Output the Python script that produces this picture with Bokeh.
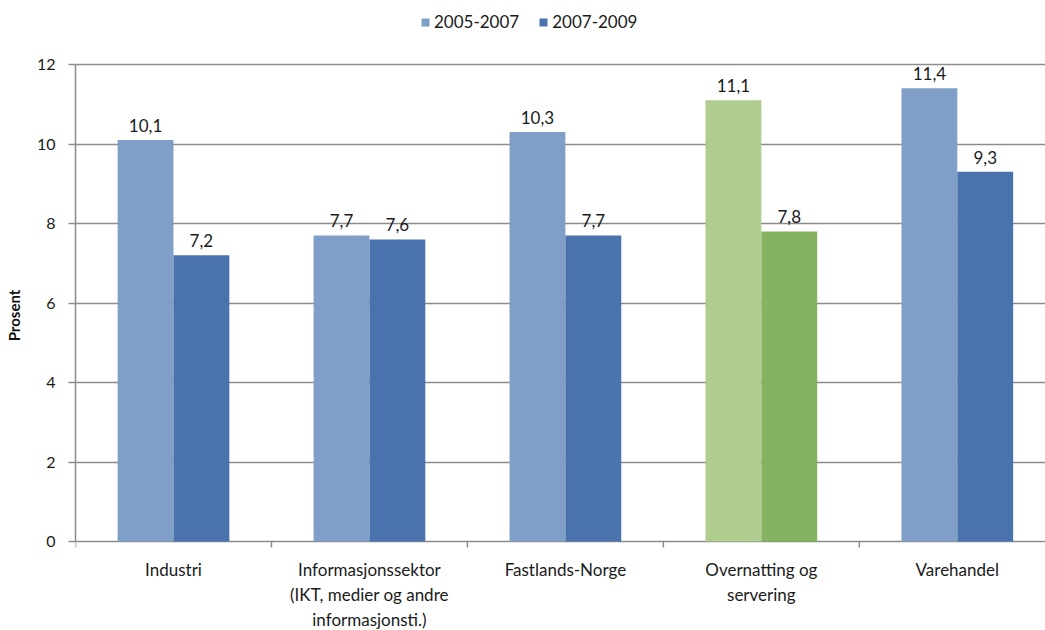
from bokeh.plotting import figure
from bokeh.models import ColumnDataSource, FixedTicker, Legend, LegendItem, Range1d
from bokeh.transform import dodge
from bokeh.core.properties import value
from bokeh.embed import file_html
from bokeh.resources import INLINE

categories = ["Industri", "Informasjonssektor\n(IKT, medier og andre\ninformasjonsti.)",
              "Fastlands-Norge", "Overnatting og\nservering", "Varehandel"]
series_names = ["2005-2007", "2007-2009"]
v_2005_2007 = [10.1, 7.7, 10.3, 11.1, 11.4]
v_2007_2009 = [7.2, 7.6, 7.7, 7.8, 9.3]
y_ticks = [0, 2, 4, 6, 8, 10, 12]
highlight = 3  # Overnatting og servering drawn in green

FONT = "Lato"
C1, C2 = "#7f9fc8", "#4a73ae"
G1, G2 = "#afcd8f", "#86b35f"
GRID = "#8c8c8c"
TXT = "#1a1a1a"

# pixel layout: value 12 at y=64px, value 0 at y=541px, figure 630px tall
PX_PER_UNIT = 477 / 12.0
Y_TOP = 12 + 64 / PX_PER_UNIT
Y_BOT = -(630 - 541) / PX_PER_UNIT
TICK = 6 / PX_PER_UNIT

n = len(categories)
xs = [i + 0.5 for i in range(n)]
bounds = list(range(n + 1))

def fmt(v):
    return f"{v:.1f}".replace(".", ",")

src1 = ColumnDataSource(dict(x=xs, top=v_2005_2007, lab=[fmt(v) for v in v_2005_2007],
                             color=[G1 if i == highlight else C1 for i in range(n)]))
src2 = ColumnDataSource(dict(x=xs, top=v_2007_2009, lab=[fmt(v) for v in v_2007_2009],
                             color=[G2 if i == highlight else C2 for i in range(n)]))
cat_src = ColumnDataSource(dict(x=xs, y=[0] * n, text=categories))
tick_src = ColumnDataSource(dict(x=bounds, y0=[0] * len(bounds), y1=[-TICK] * len(bounds)))

p = figure(width=1045, height=630, output_backend="svg", toolbar_location=None,
           x_range=Range1d(0, 4.95), y_range=Range1d(Y_BOT, Y_TOP),
           min_border_left=75, min_border_right=0, min_border_top=0, min_border_bottom=0)
p.outline_line_color = None
p.background_fill_color = "white"
p.xaxis.visible = False

bw = 0.285
p.vbar(x=dodge("x", -bw / 2, range=p.x_range), top="top", width=bw, bottom=0,
       source=src1, fill_color="color", line_color=None)
p.vbar(x=dodge("x", bw / 2, range=p.x_range), top="top", width=bw, bottom=0,
       source=src2, fill_color="color", line_color=None)

for src, off in ((src1, -bw / 2), (src2, bw / 2)):
    p.text(x=dodge("x", off, range=p.x_range), y="top", text="lab", source=src,
           text_align="center", text_baseline="bottom", y_offset=-8,
           text_font=value(FONT), text_font_size="17px", text_color=TXT)

# category axis: tick marks at group boundaries and labels under each group
p.segment(x0="x", y0="y0", x1="x", y1="y1", source=tick_src, line_color=GRID, line_width=1.5)
p.text(x="x", y="y", text="text", source=cat_src, text_align="center", text_baseline="top",
       y_offset=17, text_font=value(FONT), text_font_size="17px", text_line_height=1.2,
       text_color=TXT)

# legend proxies
l1 = p.vbar(x=[-10], top=[0], width=0.1, fill_color=C1, line_color=None)
l2 = p.vbar(x=[-10], top=[0], width=0.1, fill_color=C2, line_color=None)
legend = Legend(items=[LegendItem(label=series_names[0], renderers=[l1]),
                       LegendItem(label=series_names[1], renderers=[l2])],
                orientation="horizontal", location=(345, 630 - 32),
                border_line_color=None, background_fill_alpha=0,
                label_text_font=FONT, label_text_font_size="17px", label_text_color=TXT,
                glyph_width=10, glyph_height=10, spacing=19, label_standoff=4, padding=0, margin=0)
p.add_layout(legend, "center")

# y axis
p.yaxis.ticker = FixedTicker(ticks=y_ticks)
p.yaxis.bounds = (0, 12)
p.yaxis.axis_label = "Prosent"
p.yaxis.axis_label_text_font = FONT
p.yaxis.axis_label_text_font_style = "bold"
p.yaxis.axis_label_text_font_size = "15px"
p.yaxis.axis_label_text_color = "#111111"
p.yaxis.axis_label_standoff = 11
p.yaxis.major_label_text_font = FONT
p.yaxis.major_label_text_font_size = "16px"
p.yaxis.major_label_text_color = TXT
p.yaxis.major_label_standoff = 13
p.yaxis.axis_line_color = GRID
p.yaxis.axis_line_width = 1.5
p.yaxis.major_tick_line_color = GRID
p.yaxis.major_tick_line_width = 1.5
p.yaxis.major_tick_out = 7
p.yaxis.major_tick_in = 0
p.yaxis.minor_tick_line_color = None

p.xgrid.grid_line_color = None
p.ygrid.grid_line_color = GRID
p.ygrid.grid_line_width = 1.5
p.ygrid.level = "underlay"

open("out.html", "w").write(file_html(p, INLINE))
